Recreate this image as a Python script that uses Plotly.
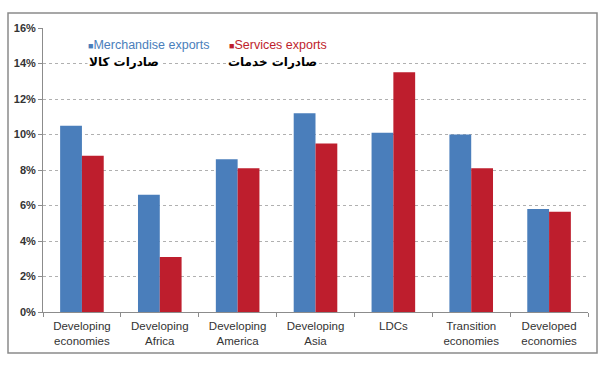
import plotly.graph_objects as go

categories = ["Developing<br>economies", "Developing<br>Africa", "Developing<br>America",
              "Developing<br>Asia", "LDCs", "Transition<br>economies", "Developed<br>economies"]
merchandise = [0.105, 0.066, 0.086, 0.112, 0.101, 0.100, 0.058]
services = [0.088, 0.031, 0.081, 0.095, 0.135, 0.081, 0.0565]
series_names = ["Merchandise exports", "Services exports"]
persian_labels = ["صادرات کالا", "صادرات خدمات"]
y_ticks = [0, 0.02, 0.04, 0.06, 0.08, 0.10, 0.12, 0.14, 0.16]

BLUE = "#4a7ebb"
RED = "#be1e2d"

W, H = 600, 372
L, R, T, B = 43, 12, 28, 60
pw, ph = W - L - R, H - T - B

def px_x(x):
    return (x - L) / pw

def px_y(y):
    return (H - B - y) / ph

fig = go.Figure()
fig.add_trace(go.Bar(x=categories, y=merchandise, name=series_names[0],
                     marker=dict(color=BLUE, line=dict(width=0)), showlegend=False))
fig.add_trace(go.Bar(x=categories, y=services, name=series_names[1],
                     marker=dict(color=RED, line=dict(width=0)), showlegend=False))

fig.update_layout(
    width=W, height=H,
    margin=dict(l=L, r=R, t=T, b=B, pad=0),
    paper_bgcolor="white", plot_bgcolor="white",
    barmode="group", bargap=0.44, bargroupgap=0,
    font=dict(family="Liberation Sans, Arial, sans-serif", size=11, color="#333"),
)
fig.update_xaxes(
    showline=True, linecolor="#8c8c8c", linewidth=1,
    ticks="outside", tickson="boundaries", ticklen=4, tickcolor="#8c8c8c",
    tickfont=dict(size=11.5, color="#333"), showgrid=False, ticklabelstandoff=3,
)
fig.update_yaxes(
    range=[0, 0.16], tickvals=y_ticks, tickformat=".0%",
    showline=True, linecolor="#8c8c8c", linewidth=1,
    ticks="outside", ticklen=4, tickcolor="#8c8c8c",
    tickfont=dict(size=11, color="#333", family="Liberation Sans, Arial, sans-serif", weight="bold"),
    showgrid=True, gridcolor="#b0b0b0", griddash="dot", gridwidth=1,
    zeroline=False,
)

# outer border
fig.add_shape(type="rect", xref="paper", yref="paper",
              x0=px_x(8), x1=px_x(597), y0=px_y(353), y1=px_y(13),
              line=dict(color="#8a8a8a", width=1.5), fillcolor="rgba(0,0,0,0)", layer="above")

# legend-like annotations
fig.add_annotation(xref="paper", yref="paper", x=px_x(86), y=px_y(45), xanchor="left", yanchor="middle",
                   text=f"<span style='font-size:9px'>■</span>{series_names[0]}", showarrow=False,
                   font=dict(size=12.5, color=BLUE, family="Liberation Sans, Arial, sans-serif"))
fig.add_annotation(xref="paper", yref="paper", x=px_x(227), y=px_y(45), xanchor="left", yanchor="middle",
                   text=f"<span style='font-size:9px'>■</span>{series_names[1]}", showarrow=False,
                   font=dict(size=12.5, color=RED, family="Liberation Sans, Arial, sans-serif"))
fig.add_annotation(xref="paper", yref="paper", x=px_x(161), y=px_y(62), xanchor="right", yanchor="middle",
                   text=f"<b>{persian_labels[0]}</b>", showarrow=False, bgcolor="white",
                   font=dict(size=12, color="#000", family="DejaVu Sans, sans-serif"))
fig.add_annotation(xref="paper", yref="paper", x=px_x(319), y=px_y(62), xanchor="right", yanchor="middle",
                   text=f"<b>{persian_labels[1]}</b>", showarrow=False, bgcolor="white",
                   font=dict(size=12, color="#000", family="DejaVu Sans, sans-serif"))

fig.write_html("out.html", config={"displayModeBar": False},
               post_script="document.body.style.margin='0';document.body.style.overflow='hidden';")
